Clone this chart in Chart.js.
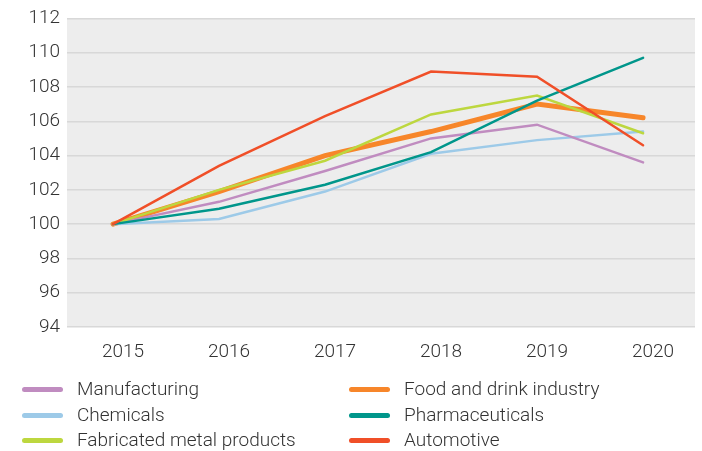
<!DOCTYPE html>
<html>
<head>
<meta charset="utf-8">
<script src="https://cdn.jsdelivr.net/npm/chart.js@4.4.1/dist/chart.umd.min.js"></script>
<style>
  body { margin: 0; background: #fff; }
  #wrap { position: relative; width: 702px; height: 451px; }
  #legend { position: absolute; left: 0; top: 376px; width: 702px; font-family: Roboto, "Liberation Sans", sans-serif; font-weight: 300; font-size: 19px; color: #333; }
  .item { position: absolute; height: 26px; line-height: 26px; white-space: nowrap; }
  .item span.sw { position: absolute; left: 0; top: 11px; width: 41px; height: 5px; border-radius: 3px; }
  .item span.tx { position: absolute; left: 55px; top: 0; }
</style>
</head>
<body>
<div id="wrap">
  <canvas id="lineChart" width="702" height="451"></canvas>
  <div id="legend"></div>
</div>
<script>
// index values (2015 = 100)
const years = [2015, 2016, 2017, 2018, 2019, 2020];
const manufacturing = [100, 101.3, 103.1, 105.0, 105.8, 103.6];
const chemicals = [100, 100.3, 101.9, 104.1, 104.9, 105.4];
const metalProducts = [100, 102.0, 103.7, 106.4, 107.5, 105.3];
const foodDrink = [100, 101.9, 104.0, 105.4, 107.0, 106.2];
const pharma = [100, 100.9, 102.3, 104.2, 107.2, 109.7];
const automotive = [100, 103.4, 106.3, 108.9, 108.6, 104.6];

function pts(vals) {
  return vals.map((v, i) => ({ x: years[i], y: v }));
}

// gray plot background
const plotBg = {
  id: 'plotBg',
  beforeDraw(chart) {
    const a = chart.chartArea;
    const c = chart.ctx;
    c.save();
    c.fillStyle = '#ededed';
    c.fillRect(a.left, a.top, a.right - a.left, a.bottom - a.top);
    c.restore();
  }
};

const ctx = document.getElementById('lineChart').getContext('2d');
const lineChart = new Chart(ctx, {
  type: 'line',
  data: {
    datasets: [
      { label: 'Manufacturing', data: pts(manufacturing), borderColor: '#c08cc0', borderWidth: 2.5, order: 3 },
      { label: 'Chemicals', data: pts(chemicals), borderColor: '#9dcae8', borderWidth: 2.5, order: 4 },
      { label: 'Fabricated metal products', data: pts(metalProducts), borderColor: '#bdd73f', borderWidth: 2.5, order: 2 },
      { label: 'Food and drink industry', data: pts(foodDrink), borderColor: '#f7862a', borderWidth: 5, order: 10 },
      { label: 'Pharmaceuticals', data: pts(pharma), borderColor: '#00968b', borderWidth: 2.5, order: 1 },
      { label: 'Automotive', data: pts(automotive), borderColor: '#f04f28', borderWidth: 2.5, order: 0 }
    ]
  },
  options: {
    responsive: false,
    animation: false,
    elements: { point: { radius: 0 }, line: { tension: 0, borderCapStyle: 'round' } },
    layout: { padding: { top: 17, right: 7, left: 0, bottom: 0 } },
    plugins: { legend: { display: false }, tooltip: { enabled: false } },
    scales: {
      x: {
        type: 'linear',
        min: 2014.566,
        max: 2020.49,
        afterBuildTicks: (axis) => { axis.ticks = years.map(v => ({ value: v })); },
        afterFit: (axis) => { axis.height = 124; },
        grid: { display: false },
        border: { display: false },
        ticks: {
          callback: (v) => String(v),
          labelOffset: 10,
          padding: 6,
          maxRotation: 0,
          color: '#333',
          font: { family: 'Roboto', weight: '300', size: 19 }
        }
      },
      y: {
        min: 94,
        max: 112,
        afterFit: (axis) => { axis.width = 67; },
        grid: { color: '#d8d8d8', lineWidth: 1.5, drawTicks: false },
        border: { display: false },
        ticks: {
          stepSize: 2,
          padding: 7,
          color: '#333',
          font: { family: 'Roboto', weight: '300', size: 19 }
        }
      }
    }
  },
  plugins: [plotBg]
});

// legend in two columns, built from the chart's datasets
const legendOrder = [0, 3, 1, 4, 2, 5];
const legendEl = document.getElementById('legend');
legendOrder.forEach((di, k) => {
  const ds = lineChart.data.datasets[di];
  const item = document.createElement('div');
  item.className = 'item';
  item.style.left = (k % 2 === 0 ? 22 : 349) + 'px';
  item.style.top = (Math.floor(k / 2) * 25.5) + 'px';
  item.innerHTML = '<span class="sw" style="background:' + ds.borderColor + '"></span><span class="tx">' + ds.label + '</span>';
  legendEl.appendChild(item);
});
</script>
</body>
</html>
